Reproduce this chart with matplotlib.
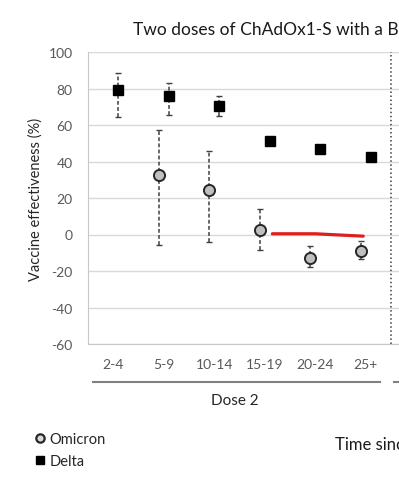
import numpy as np
import matplotlib
matplotlib.use('Agg')
import matplotlib.pyplot as plt
from matplotlib.lines import Line2D

plt.rcParams['font.family'] = ['Lato', 'DejaVu Sans']
plt.rcParams['axes.unicode_minus'] = False

# Weeks since dose 2
CATEGORIES = ['2-4', '5-9', '10-14', '15-19', '20-24', '25+']

# Delta: VE point estimate and 95% CI
DELTA_VE = [79, 76, 70.5, 51, 47, 42.5]
DELTA_LO = [64.5, 65.5, 65, 49, 45.5, 41.5]
DELTA_HI = [88.5, 83, 76, 53, 48.5, 43.5]

# Omicron (no estimate at 2-4 weeks)
OMI_IDX = [1, 2, 3, 4, 5]
OMI_VE = [32.5, 24.5, 2.5, -13, -9]
OMI_LO = [-5.5, -4, -8.5, -18, -13.5]
OMI_HI = [57.5, 45.5, 14, -6.5, -3.5]

# hand-drawn red mark on the original
RED_X = [3.15, 4.0, 4.5, 4.95]
RED_Y = [0.4, 0.4, -0.3, -0.9]

GRAY_TXT = '#595959'
W, H = 399, 489

fig = plt.figure(figsize=(W / 100, H / 100), dpi=100)
ax = fig.add_axes([88 / W, 1 - 345 / H, 1 - 88 / W, (345 - 53) / H])

x = np.arange(len(CATEGORIES))
xd = x + 0.1
xo = np.array(OMI_IDX) - 0.1

# Delta
d_ve = np.array(DELTA_VE)
eb = ax.errorbar(xd, d_ve, yerr=[d_ve - np.array(DELTA_LO), np.array(DELTA_HI) - d_ve],
                 fmt='none', ecolor='#404040', elinewidth=1.1, capsize=2, capthick=1, zorder=3)
eb[2][0].set_linestyle((0, (2.5, 1.5)))
ax.plot(xd, d_ve, 's', color='black', markersize=6.5, zorder=4)

# Omicron
o_ve = np.array(OMI_VE)
eb = ax.errorbar(xo, o_ve, yerr=[o_ve - np.array(OMI_LO), np.array(OMI_HI) - o_ve],
                 fmt='none', ecolor='#404040', elinewidth=1.1, capsize=2, capthick=1, zorder=3)
eb[2][0].set_linestyle((0, (2.5, 1.5)))
ax.plot(xo, o_ve, 'o', markerfacecolor='#bfbfbf', markeredgecolor='#262626',
        markeredgewidth=1.4, markersize=8, zorder=4)

ax.plot(RED_X, RED_Y, color='#e01e1e', linewidth=2.3, solid_capstyle='round', zorder=5)

# separator before booster panel
ax.axvline(5.5, color='#404040', linestyle=':', linewidth=1.1)

ax.set_xlim(-0.5, -0.5 + (W - 88) / 50.5)
ax.set_ylim(-60, 100)
ax.set_yticks(np.arange(-60, 101, 20))
ax.set_xticks(x)
ax.set_xticklabels(CATEGORIES)
ax.tick_params(axis='both', length=0, labelcolor=GRAY_TXT, labelsize=10)
ax.tick_params(axis='x', pad=10)
ax.tick_params(axis='y', pad=11)
ax.grid(axis='y', color='#d9d9d9', linewidth=1)
ax.set_axisbelow(True)
for s in ['top', 'right']:
    ax.spines[s].set_visible(False)
for s in ['left', 'bottom']:
    ax.spines[s].set_color('#c8c8c8')

ax.set_ylabel('Vaccine effectiveness (%)', fontsize=10.5, color='#262626', labelpad=4)

# Dose 2 bracket
tr = ax.get_xaxis_transform()
yb = (345 - 383) / (345 - 53)
ax.plot([-0.4, 5.28], [yb, yb], color='#808080', linewidth=1.5, transform=tr, clip_on=False)
ax.plot([5.55, 6.5], [yb, yb], color='#808080', linewidth=1.5, transform=tr, clip_on=False)
ax.text(2.4, (345 - 401) / (345 - 53), 'Dose 2', transform=tr, ha='center', va='center',
        fontsize=11, color='#262626')

fig.text(133 / W, 1 - 30 / H, 'Two doses of ChAdOx1-S with a BNT162b2 booster',
         ha='left', va='center', fontsize=12.5, color='#1a1a1a')
fig.text(335 / W, 1 - 445 / H, 'Time since vaccination (weeks)', ha='left', va='center',
         fontsize=12, color='#1a1a1a')

handles = [
    Line2D([], [], marker='o', linestyle='none', markerfacecolor='#d9d9d9',
           markeredgecolor='#262626', markeredgewidth=1.6, markersize=6, label='Omicron'),
    Line2D([], [], marker='s', linestyle='none', color='black', markersize=5.5, label='Delta'),
]
fig.legend(handles=handles, loc='upper left', bbox_to_anchor=(28 / W, 1 - 426 / H),
           frameon=False, handlelength=0.6, handletextpad=0.35, labelspacing=0.55,
           borderpad=0, fontsize=10.5, labelcolor='#262626')

fig.savefig('out.png', dpi=100)
